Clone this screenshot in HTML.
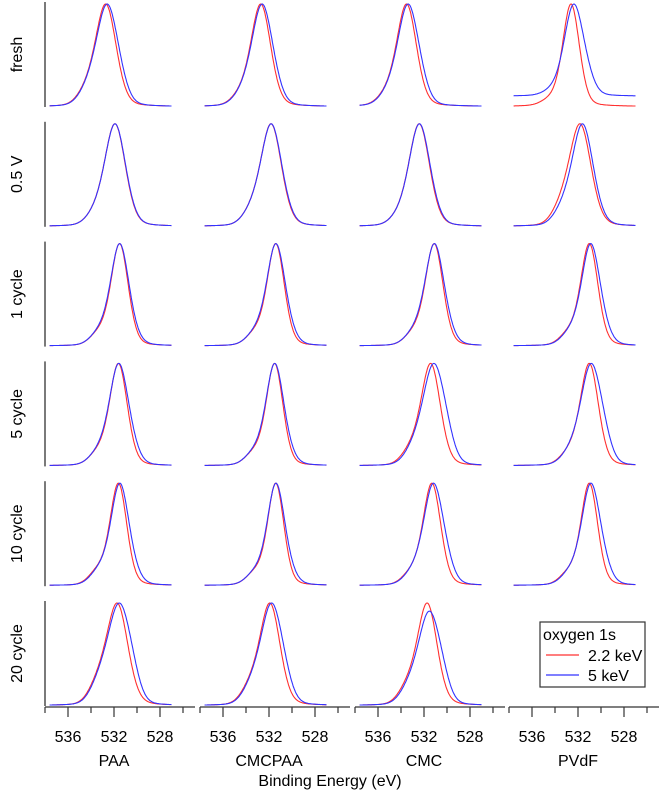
<!DOCTYPE html>
<html><head><meta charset="utf-8"><style>
body{margin:0;background:#fff}
svg{display:block;font-family:"Liberation Sans",Arial,sans-serif}
</style></head><body>
<svg id="chart" width="661" height="791" viewBox="0 0 661 791"></svg>
<script>
const rowLabels=["fresh","0.5 V","1 cycle","5 cycle","10 cycle","20 cycle"];
const colLabels=["PAA","CMCPAA","CMC","PVdF"];
const tickValues=[536,532,528];
const minorTickValues=[538,534,530,526];
// peak positions (eV) [row][col]
const peakRed=[[532.7,532.7,533.5,532.6],[531.9,531.8,532.4,531.8],[531.5,531.4,531.1,531.0],[531.6,531.5,531.4,531.0],[531.6,531.4,531.3,531.0],[531.7,531.9,531.7,null]];
const peakBlue=[[532.6,532.6,533.4,532.4],[531.9,531.8,532.4,531.6],[531.5,531.4,531.1,530.9],[531.6,531.5,531.2,530.9],[531.5,531.4,531.2,530.9],[531.6,531.8,531.6,null]];
const fwhmRed=[[2.1,2.0,2.0,1.7],[2.1,2.1,2.1,2.2],[1.75,1.75,1.8,1.75],[1.8,1.7,1.95,1.85],[1.7,1.65,1.8,1.7],[2.15,2.05,2.0,null]];
const fwhmBlue=[[2.2,2.1,2.1,1.9],[2.1,2.1,2.1,2.1],[1.85,1.85,1.9,1.85],[1.9,1.8,2.15,2.05],[1.8,1.75,1.95,1.85],[2.25,2.15,2.15,null]];
const shoulder=[[0.12,0.10,0.10,0.06],[0.10,0.12,0.08,0.14],[0.12,0.12,0.12,0.12],[0.12,0.12,0.14,0.12],[0.14,0.12,0.12,0.12],[0.18,0.16,0.16,null]];
const blueTail=[[0.06,0.05,0.08,0.14],[0.02,0.03,0.04,0.03],[0.04,0.06,0.07,0.08],[0.10,0.06,0.16,0.16],[0.08,0.08,0.12,0.12],[0.16,0.12,0.18,null]];
const blueBaseline=[[0,0,0,0.10],[0,0,0,0],[0,0,0,0],[0,0,0,0],[0,0,0,0],[0,0,0,null]];
const bluePeakHeight=[[1,1,1,1],[1,1,1,1],[1,1,1,1],[1,1,1,1],[1,1,1,1],[1,1,0.92,null]];
const energyStart=537.6, energyEnd=527.0;

const NS="http://www.w3.org/2000/svg";
const svg=document.getElementById('chart');
const colX0=[45,200,355,509];
const rowTop0=2, rowStep=119.8, panelH=105, pxPerEv=11.5;
function xScale(c,E){return colX0[c]+(538-E)*pxPerEv;}
function yScale(r,v){const b=rowTop0+r*rowStep+panelH-1;return b-v*(panelH-3);}
function mk(tag,attrs){const e=document.createElementNS(NS,tag);for(const k in attrs)e.setAttribute(k,attrs[k]);svg.appendChild(e);return e;}
function g(E,c,s){return Math.exp(-0.5*((E-c)/s)**2);}
function pv(E,c,fw){const s=fw/2.355,gm=fw/2;return 0.8*g(E,c,s)+0.2/(1+((E-c)/gm)**2);}
function shape(E,c,fw,sh,tl){return pv(E,c,fw)+sh*g(E,c+1.7,0.8)+tl*g(E,c-1.1,0.7);}
function curve(r,c,peak,fw,sh,tl,base,h){
  const pts=[];let mx=0,mn=1e9;const vals=[];
  for(let E=energyStart;E>=energyEnd-1e-9;E-=0.05){const v=shape(E,peak,fw,sh,tl);vals.push([E,v]);if(v>mx)mx=v;if(v<mn)mn=v;}
  for(const [E,v] of vals){const n=base+(h-base)*((v-mn)/(mx-mn));pts.push(xScale(c,E).toFixed(1)+","+yScale(r,n).toFixed(1));}
  return pts.join(" ");
}
for(let r=0;r<6;r++){
  const top=rowTop0+r*rowStep;
  const ax=mk('line',{x1:45,y1:top,x2:45,y2:top+panelH,stroke:'#333','stroke-width':1.3});
  
  
  const t=mk('text',{x:0,y:0,transform:`translate(22,${top+panelH/2}) rotate(-90)`,'text-anchor':'middle','font-size':16,fill:'#000'});
  t.textContent=rowLabels[r];
  
  
  for(let c=0;c<4;c++){
    if(peakRed[r][c]==null)continue;
    const red=mk('polyline',{points:curve(r,c,peakRed[r][c],fwhmRed[r][c],shoulder[r][c],0,0,1),fill:'none',stroke:'#ff3030','stroke-width':1.1});
    
    
    const blue=mk('polyline',{points:curve(r,c,peakBlue[r][c],fwhmBlue[r][c],shoulder[r][c],blueTail[r][c],blueBaseline[r][c],bluePeakHeight[r][c]),fill:'none',stroke:'#3333ff','stroke-width':1.1});
    
    
  }
}
const axY=707;
for(let c=0;c<4;c++){
  const l=mk('line',{x1:colX0[c],y1:axY,x2:colX0[c]+150,y2:axY,stroke:'#333','stroke-width':1.3});
  
  
  for(const v of tickValues){
    const x=xScale(c,v);
    const tk=mk('line',{x1:x,y1:axY,x2:x,y2:axY+10,stroke:'#333','stroke-width':1.2});
    
    
    const tl=mk('text',{x:x,y:742,'text-anchor':'middle','font-size':16,fill:'#000'});
    tl.textContent=v;
    
    
  }
  for(const v of minorTickValues){
    const x=xScale(c,v);
    const tk=mk('line',{x1:x,y1:axY,x2:x,y2:axY+6,stroke:'#333','stroke-width':1.2});
    
    
  }
  const ct=mk('text',{x:xScale(c,532),y:766,'text-anchor':'middle','font-size':16,fill:'#000'});
  ct.textContent=colLabels[c];
  
  
}
const xt=mk('text',{x:330,y:786,'text-anchor':'middle','font-size':16,fill:'#000'});
xt.textContent="Binding Energy (eV)";


</script>
<svg style="position:absolute;left:0;top:0" width="661" height="791">
<g font-family="Liberation Sans, Arial, sans-serif" font-size="16">
<rect x="540" y="622" width="105" height="65" fill="#fff" stroke="#333" stroke-width="1.2"/>
<text x="543" y="640">oxygen 1s</text>
<line x1="546" y1="655" x2="579" y2="655" stroke="#ff3030" stroke-width="1.2"/>
<text x="588" y="661">2.2 keV</text>
<line x1="546" y1="675" x2="579" y2="675" stroke="#3333ff" stroke-width="1.2"/>
<text x="588" y="681">5 keV</text>
</g></svg>
</body></html>
